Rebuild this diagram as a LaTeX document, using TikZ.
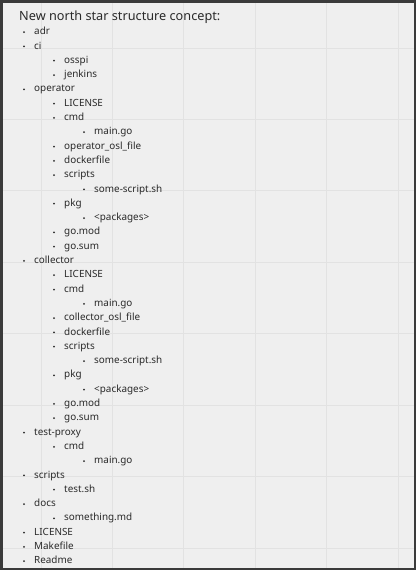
\documentclass[tikz,border=0pt]{standalone}
\usepackage{fontspec}
\setmainfont{Noto Sans}
\definecolor{bg}{HTML}{EFEFEF}
\definecolor{gridc}{HTML}{E2E2E2}
\definecolor{frame}{HTML}{3A3A3A}
\definecolor{ink}{HTML}{2A2A2A}
\begin{document}
\begin{tikzpicture}[x=1pt,y=-1pt,
  item/.style={anchor=mid west, inner sep=0pt, font=\fontsize{9.9}{12}\selectfont, text=ink},
  titlestyle/.style={anchor=base west, inner sep=0pt, font=\fontsize{12.7}{15}\selectfont, text=ink},
  gridline/.style={draw=gridc, line width=1pt},
  bulletdot/.style={fill=ink}]
\fill[bg] (0,0) rectangle (416,570);
\useasboundingbox (0,0) rectangle (416,570);
\foreach \k in {0,...,5} \draw[gridline] ({41+71.43*\k},2) -- ({41+71.43*\k},568);
\foreach \k in {0,...,7} \draw[gridline] (2,{48+71.43*\k}) -- (414,{48+71.43*\k});
\draw[frame, line width=2.5pt] (1.25,1.25) rectangle (414.75,568.75);
\node[titlestyle] (title) at (19,20) {New north star structure concept:};
\foreach \lvl/\txt [count=\i] in {
  1/adr, 1/ci, 2/osspi, 2/jenkins,
  1/operator, 2/LICENSE, 2/cmd, 3/main.go, 2/operator\_osl\_file, 2/dockerfile,
  2/scripts, 3/some-script.sh, 2/pkg, 3/<packages>, 2/go.mod, 2/go.sum,
  1/collector, 2/LICENSE, 2/cmd, 3/main.go, 2/collector\_osl\_file, 2/dockerfile,
  2/scripts, 3/some-script.sh, 2/pkg, 3/<packages>, 2/go.mod, 2/go.sum,
  1/test-proxy, 2/cmd, 3/main.go,
  1/scripts, 2/test.sh,
  1/docs, 2/something.md,
  1/LICENSE, 1/Makefile, 1/Readme} {
  \node[item] (n\i) at ({4+30*\lvl}, {32.1+14.3*(\i-1)}) {\txt};
  \fill[bulletdot] ([xshift=-10pt]n\i.mid west) circle (1pt);
}
\end{tikzpicture}
\end{document}
